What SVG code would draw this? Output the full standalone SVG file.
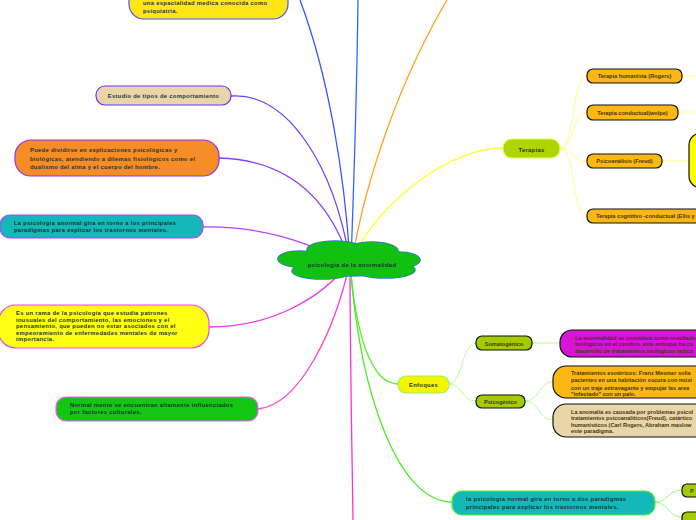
<svg xmlns="http://www.w3.org/2000/svg" width="696" height="520" viewBox="0 0 696 520">
<style>
.t{font-family:"Liberation Sans",Arial,sans-serif;font-weight:bold;font-size:5.8px;letter-spacing:0.32px;fill:#1d3434}
.tb{font-family:"Liberation Sans",Arial,sans-serif;font-weight:bold;font-size:5.6px;fill:#4a3510}
.c{fill:none;stroke-width:1.3}
.cl{fill:none;stroke-width:0.9}
.bk{stroke:#111;stroke-width:1.2}
</style>
<rect width="696" height="520" fill="#fff"/>
<g id="connectors">
<path class="c" stroke="#3355ff" d="M300 0 C330 80 345 180 350 262"/>
<path class="c" stroke="#3366ff" d="M358 0 C357 80 354 180 351 262"/>
<path class="c" stroke="#ffa020" d="M447 0 C400 80 365 180 352 262"/>
<path class="c" stroke="#6a44ff" d="M231 96 C290 92 335 170 350 262"/>
<path class="c" stroke="#8a3cff" d="M219 158 C290 160 330 200 350 262"/>
<path class="c" stroke="#b444ff" d="M203 227 C260 226 300 240 350 262"/>
<path class="c" stroke="#e83ae8" d="M209 327 C270 327 320 300 350 262"/>
<path class="c" stroke="#ff44cc" d="M258 409 C300 405 335 330 350 262"/>
<path class="c" stroke="#ff33cc" d="M350 262 C350 350 352 450 353 520"/>
<path class="c" stroke="#55ee33" d="M350 262 C355 330 370 384 398 384"/>
<path class="c" stroke="#44ee22" d="M350 262 C360 400 400 502 452 502"/>
<path class="c" stroke="#ffff33" d="M350 262 C380 200 450 148 503 148"/>
<path class="cl" stroke="#ffff77" d="M560 148 C575 148 572 76 587 76"/>
<path class="cl" stroke="#ffff77" d="M560 148 C575 148 572 112 587 112"/>
<path class="cl" stroke="#ffff77" d="M560 148 C575 148 572 161 587 161"/>
<path class="cl" stroke="#ffff77" d="M560 148 C575 148 572 216 587 216"/>
<path class="cl" stroke="#ffff77" d="M682 76 L696 76"/>
<path class="cl" stroke="#ffff77" d="M678 112 L696 112"/>
<path class="cl" stroke="#ffff77" d="M662 161 L689 161"/>
<path class="cl" stroke="#aaff88" d="M449 384 C462 384 462 343 476 343"/>
<path class="cl" stroke="#aaff88" d="M449 384 C462 384 462 401 476 401"/>
<path class="cl" stroke="#aaff88" d="M532 343 L560 343"/>
<path class="cl" stroke="#aaff88" d="M525 401 C540 401 538 382 553 382"/>
<path class="cl" stroke="#aaff88" d="M525 401 C540 401 538 420 553 420"/>
<path class="cl" stroke="#88ff66" d="M655 502 C668 502 668 490 682 490"/>
<path class="cl" stroke="#88ff66" d="M655 502 C668 502 668 517 682 517"/>
</g>
<g id="center">
<g fill="#12c012" stroke="#2a78c8" stroke-width="1.6">
<ellipse cx="300" cy="259" rx="22" ry="8"/>
<ellipse cx="335" cy="250" rx="28" ry="9"/>
<ellipse cx="372" cy="251" rx="26" ry="9"/>
<ellipse cx="398" cy="260" rx="22" ry="8"/>
<ellipse cx="322" cy="271" rx="30" ry="8"/>
<ellipse cx="385" cy="270" rx="30" ry="8"/>
<ellipse cx="350" cy="263" rx="50" ry="13"/>
</g>
<g fill="#12c012">
<ellipse cx="300" cy="259" rx="22" ry="8"/>
<ellipse cx="335" cy="250" rx="28" ry="9"/>
<ellipse cx="372" cy="251" rx="26" ry="9"/>
<ellipse cx="398" cy="260" rx="22" ry="8"/>
<ellipse cx="322" cy="271" rx="30" ry="8"/>
<ellipse cx="385" cy="270" rx="30" ry="8"/>
<ellipse cx="350" cy="263" rx="50" ry="13"/>
</g>
<text class="t" x="352" y="267" text-anchor="middle" font-size="7.2" letter-spacing="0.45">psicologia de la anormalidad</text>
</g>
<g id="n-psiquiatria">
<rect x="129" y="-22" width="159" height="41" rx="15" fill="#ffe614" stroke="#4455ff" stroke-width="1.2"/>
<text class="t" x="143" y="5">una espacialidad medica conocida como</text>
<text class="t" x="143" y="13">psiquiatria.</text>
</g>
<g id="n-estudio">
<rect x="96" y="86" width="135" height="19" rx="9" fill="#e8d5a8" stroke="#6633ff" stroke-width="1.2"/>
<text class="t" x="163.5" y="98" text-anchor="middle">Estudio de tipos de comportamiento</text>
</g>
<g id="n-dividirse">
<rect x="15" y="140" width="204" height="36" rx="16" fill="#f58c25" stroke="#8833ff" stroke-width="1.2"/>
<text class="t" x="30" y="152">Puede dividirse en explicaciones psicológicas y</text>
<text class="t" x="30" y="160.5">biológicas, atendiendo a dilemas fisiológicos como el</text>
<text class="t" x="30" y="169">dualismo del alma y el cuerpo del hombre.</text>
</g>
<g id="n-anormal">
<rect x="0" y="215" width="203" height="23" rx="10" fill="#14b8b8" stroke="#aa44ff" stroke-width="1.2"/>
<text class="t" x="14" y="225">La psicologia anormal gira en torno a los principales</text>
<text class="t" x="14" y="232">paradigmas para explicar los trastornos mentales.</text>
</g>
<g id="n-rama">
<rect x="-2" y="305" width="211" height="43" rx="18" fill="#ffff14" stroke="#ee44ee" stroke-width="1.2"/>
<text class="t" x="16" y="315">Es un rama de la psicologia que estudia patrones</text>
<text class="t" x="16" y="321.5">inusuales del comportamiento, las emociones y el</text>
<text class="t" x="16" y="328">pensamiento, que pueden no estar asociados con el</text>
<text class="t" x="16" y="334.5">empeoramiento de enfermedades mentales de mayor</text>
<text class="t" x="16" y="341">importancia.</text>
</g>
<g id="n-normal">
<rect x="56" y="397" width="202" height="24" rx="10" fill="#13c613" stroke="#ff55ff" stroke-width="1.2"/>
<text class="t" x="70" y="407">Normal mente se encuentran altamente influenciados</text>
<text class="t" x="70" y="414">por factores culturales.</text>
</g>
<g id="n-terapias">
<rect x="503" y="139" width="57" height="19" rx="9" fill="#b0d400" stroke="#ddff55" stroke-width="1.2"/>
<text class="t" x="531.5" y="151.5" text-anchor="middle" font-size="7.8" letter-spacing="0.5">Terapias</text>
</g>
<g id="n-humanista">
<rect x="587" y="69" width="95" height="14" rx="6" fill="#fbb714" class="bk"/>
<text class="tb" x="634.5" y="78" text-anchor="middle">Terapia humanista (Rogers)</text>
</g>
<g id="n-conductual">
<rect x="587" y="105" width="91" height="15" rx="6" fill="#fbb714" class="bk"/>
<text class="tb" x="632.5" y="114.5" text-anchor="middle">Terapia conductual(wolpe)</text>
</g>
<g id="n-psicoanalisis">
<rect x="587" y="154" width="75" height="14" rx="6" fill="#fbb714" class="bk"/>
<text class="tb" x="624.5" y="163" text-anchor="middle">Psicoanálisis (Freud)</text>
</g>
<g id="n-freud-detail">
<rect x="689" y="133" width="40" height="55" rx="12" fill="#ffff00" class="bk"/>
</g>
<g id="n-cognitivo">
<rect x="587" y="209" width="120" height="14" rx="6" fill="#fbb714" class="bk"/>
<text class="tb" x="596" y="218">Terapia cognitivo -conductual (Ellis y</text>
</g>
<g id="n-enfoques">
<rect x="398" y="376" width="51" height="17" rx="8" fill="#f5f500" stroke="#99ee66" stroke-width="1.2"/>
<text class="t" x="423.5" y="387" text-anchor="middle" letter-spacing="0">Enfoques</text>
</g>
<g id="n-somatogenico">
<rect x="476" y="336" width="56" height="14" rx="6" fill="#a3cc00" class="bk"/>
<text class="tb" x="504" y="345.5" text-anchor="middle">Somatogénico</text>
</g>
<g id="n-soma-detail">
<rect x="560" y="330" width="160" height="27" rx="12" fill="#d615d6" class="bk"/>
<text class="tb" x="575" y="339.5" fill="#3a1a4a">La anormalidad se considera como resultado</text>
<text class="tb" x="575" y="346" fill="#3a1a4a">biológicos en el cerebro. este enfoque ha co</text>
<text class="tb" x="575" y="352.5" fill="#3a1a4a">desarrollo de tratamientos biológicos radica</text>
</g>
<g id="n-psicogenico">
<rect x="476" y="395" width="49" height="13" rx="6" fill="#a3cc00" class="bk"/>
<text class="tb" x="500.5" y="404" text-anchor="middle">Psicogénico</text>
</g>
<g id="n-mesmer">
<rect x="553" y="366" width="167" height="32" rx="13" fill="#fbb714" class="bk"/>
<text class="tb" x="571" y="375">Tratamientos esotéricos: Franz Mesmer solía</text>
<text class="tb" x="571" y="382">pacientes en una habitación oscura con músi</text>
<text class="tb" x="571" y="389.5">con un traje extravagante y empujar las area</text>
<text class="tb" x="571" y="396">"infectado" con un palo.</text>
</g>
<g id="n-anomalia">
<rect x="553" y="404" width="167" height="33" rx="13" fill="#e8d6a8" class="bk"/>
<text class="tb" x="571" y="413.5">La anomalía es causada por problemas psicol</text>
<text class="tb" x="571" y="420">tratamientos psicoanalíticos(Freud), catártico</text>
<text class="tb" x="571" y="426.5">humanísticos (Carl Rogers, Abraham maslow</text>
<text class="tb" x="571" y="433">este paradigma.</text>
</g>
<g id="n-normal-paradigmas">
<rect x="452" y="491" width="203" height="24" rx="10" fill="#14b8b8" stroke="#55ee33" stroke-width="1.2"/>
<text class="t" x="466" y="501">la psicología normal gira en torno a dos paradigmas</text>
<text class="t" x="466" y="508.5">principales para explicar los trastornos mentales.</text>
</g>
<g id="n-p1">
<rect x="682" y="484" width="24" height="13" rx="5" fill="#a3cc00" class="bk"/>
<text class="tb" x="690" y="493">P</text>
</g>
<g id="n-p2">
<rect x="682" y="512" width="24" height="13" rx="5" fill="#a3cc00" class="bk"/>
</g>
</svg>
